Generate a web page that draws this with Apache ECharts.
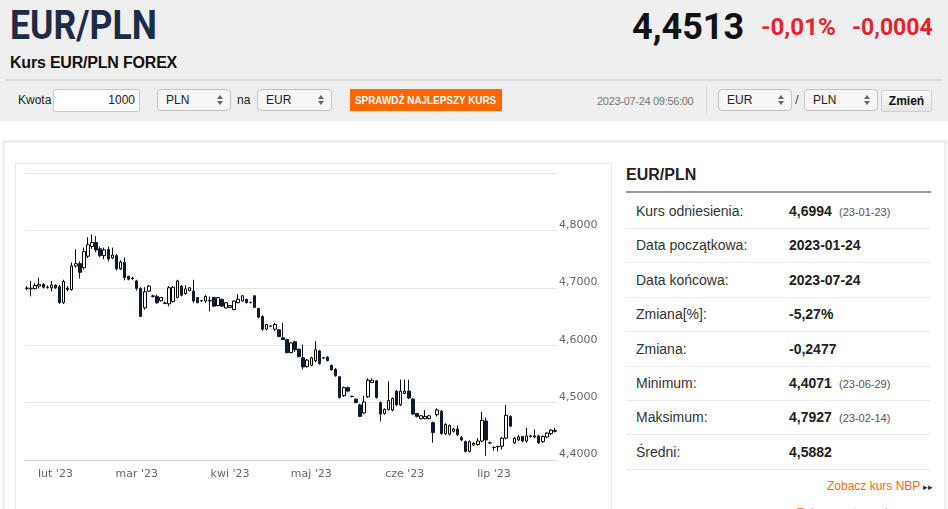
<!DOCTYPE html>
<html>
<head>
<meta charset="utf-8">
<script src="https://cdn.jsdelivr.net/npm/echarts/dist/echarts.min.js"></script>
<style>
  html, body { margin: 0; padding: 0; width: 948px; height: 509px; overflow: hidden; background: #fff; font-family: "Liberation Sans", Arial, sans-serif; }
  .abs { position: absolute; white-space: nowrap; }
  #head { position: absolute; left: 0; top: 0; width: 948px; height: 121px; background: #efefef; }
  .sel { position: absolute; height: 20px; background: #f6f6f6; border: 1px solid #c4c4c4; border-radius: 4px; font-size: 12px; color: #222; line-height: 20px; box-sizing: content-box; }
  .sel span { position: absolute; left: 8px; }
  .sel i { position: absolute; right: 7px; width: 0; height: 0; border-left: 3px solid transparent; border-right: 3px solid transparent; }
  .sel i.u { top: 5px; border-bottom: 4px solid #666; }
  .sel i.d { top: 11px; border-top: 4px solid #666; }
  .row { position: absolute; left: 626px; width: 305px; height: 34px; border-bottom: 1px solid #ececec; }
  .row .l { position: absolute; left: 10px; top: 9px; font-size: 14px; color: #333; }
  .row .v { position: absolute; left: 163px; top: 9px; font-size: 14px; font-weight: bold; color: #222; }
  .row .d { position: absolute; left: 213px; top: 12px; font-size: 11px; color: #555; }
</style>
</head>
<body>
<div id="head">
  <div class="abs" style="left:10px;top:2px;font-family:Roboto;font-weight:bold;font-size:40px;color:#1c2b46;transform:scaleX(0.89);transform-origin:left;">EUR/PLN</div>
  <div class="abs" style="left:632px;top:6px;font-family:Roboto;font-weight:bold;font-size:36px;color:#111;">4,4513</div>
  <div class="abs" style="left:761px;top:14px;font-family:Roboto;font-weight:bold;font-size:23px;color:#e3242b;transform:scaleX(1.05);transform-origin:left;">-0,01%</div>
  <div class="abs" style="left:852px;top:14px;font-family:Roboto;font-weight:bold;font-size:23px;color:#e3242b;">-0,0004</div>
  <div class="abs" style="left:10px;top:54px;font-size:16px;font-weight:bold;color:#111;letter-spacing:-0.2px;">Kurs EUR/PLN FOREX</div>
  <div class="abs" style="left:5px;top:79px;width:938px;height:2px;background:#dcdcdc;"></div>

  <div class="abs" style="left:18px;top:93px;font-size:12px;color:#222;">Kwota</div>
  <div class="abs" style="left:53px;top:89px;width:85px;height:21px;background:#fff;border:1px solid #c8c8c8;border-radius:2px;"></div>
  <div class="abs" style="left:53px;top:93px;width:82px;text-align:right;font-size:12px;color:#222;">1000</div>
  <div class="sel" style="left:157px;top:89px;width:72px;"><span>PLN</span><i class="u"></i><i class="d"></i></div>
  <div class="abs" style="left:237px;top:93px;font-size:12px;color:#222;">na</div>
  <div class="sel" style="left:257px;top:89px;width:73px;"><span>EUR</span><i class="u"></i><i class="d"></i></div>
  <div class="abs" style="left:350px;top:89px;width:152px;height:22px;background:#ff6600;"></div>
  <div class="abs" style="left:355px;top:89px;color:#fff;font-size:11px;font-weight:bold;line-height:22px;transform:scaleX(0.9);transform-origin:left;">SPRAWDŹ NAJLEPSZY KURS</div>
  <div class="abs" style="left:597px;top:95px;font-size:11px;color:#777;letter-spacing:-0.3px;">2023-07-24 09:56:00</div>
  <div class="abs" style="left:706px;top:87px;width:1px;height:26px;background:#d8d8d8;"></div>
  <div class="sel" style="left:718px;top:89px;width:72px;"><span>EUR</span><i class="u"></i><i class="d"></i></div>
  <div class="abs" style="left:795px;top:92px;font-size:13px;color:#444;">/</div>
  <div class="sel" style="left:804px;top:89px;width:72px;"><span>PLN</span><i class="u"></i><i class="d"></i></div>
  <div class="abs" style="left:881px;top:90px;width:49px;height:20px;background:linear-gradient(#fafafa,#e6e6e6);border:1px solid #cfcfcf;border-radius:2px;font-size:12px;font-weight:bold;color:#111;line-height:20px;text-align:center;">Zmień</div>
</div>

<div class="abs" style="left:2px;top:140px;width:939px;height:400px;border:3px solid #eeeeee;"></div>
<div class="abs" style="left:15px;top:163px;width:595px;height:360px;border:1px solid #e8e8e8;"></div>
<div id="chart" style="position:absolute;left:16px;top:164px;width:594px;height:345px;"></div>

<div class="abs" style="left:626px;top:166px;font-size:16px;font-weight:bold;color:#222;">EUR/PLN</div>
<div class="abs" style="left:626px;top:191px;width:305px;height:2px;background:#9a9a9a;"></div>
<div id="stats"></div>
<div class="abs" style="left:827px;top:479px;font-size:12px;color:#f26b1d;">Zobacz kurs NBP <span style="color:#1c2b46;font-size:9px;">&#9656;&#9656;</span></div>
<div class="abs" style="left:797px;top:506px;font-size:12px;color:#f26b1d;">Zobacz notowania</div>

<script>
// notowania EUR/PLN, dni robocze 2023-01-23 .. 2023-07-24
var openVals = [
  4.6990, 4.6994, 4.6985, 4.7030, 4.7060, 4.7010, 4.7000, 4.7045, 4.7020, 4.6740,
  4.6995, 4.6970, 4.7380, 4.7420, 4.7350, 4.7550, 4.7720, 4.7790, 4.7680, 4.7560,
  4.7670, 4.7520, 4.7560, 4.7330, 4.7440, 4.7200, 4.7160, 4.7120, 4.6990, 4.6650,
  4.6940, 4.6860, 4.6850, 4.6775, 4.6730, 4.6720, 4.6760, 4.6830, 4.7030, 4.6900,
  4.6950, 4.6940, 4.6830, 4.6770, 4.6770, 4.6780, 4.6830, 4.6690, 4.6800, 4.6650,
  4.6660, 4.6620, 4.6740, 4.6770, 4.6800, 4.6745, 4.6860, 4.6640, 4.6500, 4.6280,
  4.6335, 4.6280, 4.6270, 4.6130, 4.6100, 4.5870, 4.6060, 4.5930, 4.5780, 4.5630,
  4.5650, 4.5730, 4.5900, 4.5780, 4.5790, 4.5650, 4.5580, 4.5450, 4.5120, 4.5260,
  4.5110, 4.5060, 4.4960, 4.4820, 4.5100, 4.5350, 4.5380, 4.5000, 4.4810, 4.4880,
  4.4870, 4.5200, 4.4960, 4.5160, 4.5200, 4.5060, 4.4810, 4.4720, 4.4720, 4.4720,
  4.4650, 4.4790, 4.4850, 4.4460, 4.4450, 4.4500, 4.4540, 4.4390, 4.4320, 4.4150,
  4.4260, 4.4270, 4.4330, 4.4680, 4.4300, 4.4220, 4.4230, 4.4240, 4.4380, 4.4760,
  4.4300, 4.4350, 4.4410, 4.4330, 4.4420, 4.4400, 4.4420, 4.4320, 4.4400, 4.4460,
  4.4500
];
var closeVals = [
  4.6994, 4.6980, 4.7040, 4.7060, 4.7010, 4.7005, 4.7050, 4.7000, 4.6740, 4.7110,
  4.6970, 4.7380, 4.7420, 4.7270, 4.7630, 4.7750, 4.7790, 4.7660, 4.7560, 4.7660,
  4.7500, 4.7570, 4.7330, 4.7450, 4.7180, 4.7150, 4.7170, 4.6990, 4.6500, 4.6930,
  4.7030, 4.6850, 4.6740, 4.6830, 4.6735, 4.7000, 4.7010, 4.7120, 4.6870, 4.6980,
  4.7000, 4.6770, 4.6740, 4.6775, 4.6850, 4.6770, 4.6680, 4.6830, 4.6680, 4.6740,
  4.6690, 4.6770, 4.6800, 4.6860, 4.6740, 4.6740, 4.6660, 4.6490, 4.6280, 4.6360,
  4.6330, 4.6360, 4.6150, 4.6100, 4.5870, 4.6040, 4.5920, 4.5800, 4.5620, 4.5740,
  4.5780, 4.5920, 4.5680, 4.5775, 4.5730, 4.5570, 4.5470, 4.5090, 4.5260, 4.5200,
  4.5105, 4.5000, 4.4760, 4.5010, 4.5390, 4.5390, 4.5090, 4.4800, 4.4880, 4.5040,
  4.5070, 4.4960, 4.5200, 4.5200, 4.5080, 4.4800, 4.4760, 4.4770, 4.4760, 4.4770,
  4.4480, 4.4870, 4.4460, 4.4620, 4.4600, 4.4540, 4.4440, 4.4350, 4.4150, 4.4320,
  4.4290, 4.4330, 4.4690, 4.4350, 4.4295, 4.4215, 4.4235, 4.4380, 4.4780, 4.4590,
  4.4380, 4.4400, 4.4330, 4.4420, 4.4410, 4.4420, 4.4300, 4.4410, 4.4470, 4.4520,
  4.4513
];
var lowVals = [
  4.6960, 4.6850, 4.6975, 4.6990, 4.6990, 4.6985, 4.6940, 4.6980, 4.6720, 4.6720,
  4.6940, 4.6950, 4.7350, 4.7160, 4.7320, 4.7520, 4.7680, 4.7620, 4.7530, 4.7500,
  4.7460, 4.7500, 4.7300, 4.7310, 4.7130, 4.7130, 4.7140, 4.6950, 4.6490, 4.6620,
  4.6930, 4.6830, 4.6720, 4.6760, 4.6715, 4.6680, 4.6740, 4.6820, 4.6850, 4.6880,
  4.6940, 4.6740, 4.6730, 4.6760, 4.6740, 4.6590, 4.6670, 4.6680, 4.6670, 4.6640,
  4.6650, 4.6610, 4.6730, 4.6760, 4.6730, 4.6730, 4.6650, 4.6470, 4.6250, 4.6260,
  4.6320, 4.6250, 4.6140, 4.6090, 4.5860, 4.5860, 4.5880, 4.5790, 4.5580, 4.5610,
  4.5630, 4.5700, 4.5660, 4.5760, 4.5720, 4.5560, 4.5450, 4.5070, 4.5100, 4.5180,
  4.5090, 4.4990, 4.4750, 4.4800, 4.5080, 4.5340, 4.5070, 4.4670, 4.4790, 4.4860,
  4.4850, 4.4940, 4.4940, 4.5150, 4.5060, 4.4780, 4.4740, 4.4710, 4.4710, 4.4710,
  4.4300, 4.4760, 4.4440, 4.4440, 4.4430, 4.4480, 4.4420, 4.4330, 4.4130, 4.4130,
  4.4240, 4.4250, 4.4310, 4.4071, 4.4280, 4.4160, 4.4150, 4.4180, 4.4360, 4.4570,
  4.4280, 4.4330, 4.4310, 4.4300, 4.4390, 4.4380, 4.4280, 4.4300, 4.4380, 4.4430,
  4.4480
];
var highVals = [
  4.7030, 4.7120, 4.7080, 4.7170, 4.7080, 4.7040, 4.7120, 4.7060, 4.7050, 4.7140,
  4.7030, 4.7440, 4.7670, 4.7460, 4.7700, 4.7880, 4.7927, 4.7900, 4.7720, 4.7700,
  4.7720, 4.7700, 4.7590, 4.7480, 4.7530, 4.7210, 4.7190, 4.7140, 4.7010, 4.7010,
  4.7050, 4.6880, 4.6880, 4.6840, 4.6760, 4.7030, 4.7030, 4.7140, 4.7050, 4.7040,
  4.7010, 4.7140, 4.6840, 4.6790, 4.6870, 4.6850, 4.6840, 4.6840, 4.6810, 4.6750,
  4.6700, 4.6780, 4.6890, 4.6870, 4.6810, 4.6760, 4.6870, 4.6650, 4.6520, 4.6370,
  4.6350, 4.6390, 4.6280, 4.6390, 4.6110, 4.6050, 4.6080, 4.5940, 4.6010, 4.5760,
  4.5800, 4.6070, 4.5920, 4.5800, 4.5810, 4.5660, 4.5600, 4.5460, 4.5280, 4.5280,
  4.5120, 4.5070, 4.4980, 4.5120, 4.5420, 4.5420, 4.5390, 4.5020, 4.4900, 4.5370,
  4.5090, 4.5220, 4.5400, 4.5400, 4.5400, 4.5080, 4.4820, 4.4780, 4.4870, 4.4780,
  4.4670, 4.4900, 4.4870, 4.4640, 4.4620, 4.4560, 4.4600, 4.4420, 4.4340, 4.4340,
  4.4310, 4.4380, 4.4840, 4.4740, 4.4320, 4.4240, 4.4250, 4.4400, 4.4960, 4.4780,
  4.4400, 4.4430, 4.4420, 4.4560, 4.4440, 4.4530, 4.4440, 4.4430, 4.4480, 4.4540,
  4.4560
];
var startDate = '2023-01-23';
var monthNames = ['sty', 'lut', 'mar', 'kwi', 'maj', 'cze', 'lip', 'sie', 'wrz', 'paź', 'lis', 'gru'];
var yTicks = [4.4, 4.5, 4.6, 4.7, 4.8, 4.9];

var statLabels = ['Kurs odniesienia:', 'Data początkowa:', 'Data końcowa:', 'Zmiana[%]:', 'Zmiana:', 'Minimum:', 'Maksimum:', 'Średni:'];
var statValues = ['4,6994', '2023-01-24', '2023-07-24', '-5,27%', '-0,2477', '4,4071', '4,7927', '4,5882'];
var statDates = ['(23-01-23)', '', '', '', '', '(23-06-29)', '(23-02-14)', ''];

// tabela po prawej
var html = '';
for (var i = 0; i < statLabels.length; i++) {
    html += '<div class="row" style="top:' + (194 + i * 34.4) + 'px">' +
        '<span class="l">' + statLabels[i] + '</span>' +
        '<span class="v">' + statValues[i] + '</span>' +
        '<span class="d">' + statDates[i] + '</span></div>';
}
document.getElementById('stats').innerHTML = html;

// daty dni roboczych
var dates = [];
var d = new Date(startDate + 'T12:00:00Z');
while (dates.length < closeVals.length) {
    var wd = d.getUTCDay();
    if (wd != 0 && wd != 6) {
        dates.push(d.toISOString().slice(0, 10));
    }
    d.setUTCDate(d.getUTCDate() + 1);
}
var monthStart = {};
for (var i = 1; i < dates.length; i++) {
    if (dates[i].slice(5, 7) != dates[i - 1].slice(5, 7)) {
        monthStart[i] = monthNames[parseInt(dates[i].slice(5, 7), 10) - 1] + " '" + dates[i].slice(2, 4);
    }
}

var kData = [];
for (var i = 0; i < closeVals.length; i++) {
    kData.push([openVals[i], closeVals[i], lowVals[i], highVals[i]]);
}

var myChart = echarts.init(document.getElementById('chart'));
var option = {
    animation: false,
    backgroundColor: '#fff',
    grid: { left: 9, top: 9, width: 532, height: 287 },
    xAxis: {
        type: 'category',
        data: dates,
        boundaryGap: true,
        axisLine: { lineStyle: { color: '#ccd6eb' } },
        axisTick: {
            alignWithLabel: true,
            length: 7,
            lineStyle: { color: '#ccd6eb' },
            interval: function (idx) { return monthStart[idx] !== undefined; }
        },
        axisLabel: {
            margin: 9,
            color: '#666',
            fontSize: 11,
            fontFamily: 'DejaVu Sans',
            interval: function (idx) { return monthStart[idx] !== undefined; },
            formatter: function (v, idx) { return monthStart[idx] || ''; }
        },
        splitLine: { show: false }
    },
    yAxis: {
        type: 'value',
        position: 'right',
        min: yTicks[0],
        max: yTicks[yTicks.length - 1],
        interval: 0.1,
        axisLine: { show: false },
        axisTick: { show: false },
        axisLabel: {
            margin: 2,
            color: '#666',
            fontSize: 11,
            fontFamily: 'DejaVu Sans',
            verticalAlign: 'bottom',
            formatter: function (v) {
                if (v > yTicks[yTicks.length - 2] + 0.05) return '';
                return v.toFixed(4).replace('.', ',');
            }
        },
        splitLine: { lineStyle: { color: '#e6e6e6', width: 1 } }
    },
    series: [{
        type: 'candlestick',
        data: kData,
        barWidth: 3,
        itemStyle: {
            color: '#ffffff',
            color0: '#0f1a2c',
            borderColor: '#000000',
            borderColor0: '#0f1a2c',
            borderWidth: 1
        }
    }]
};
myChart.setOption(option);
</script>
</body>
</html>
